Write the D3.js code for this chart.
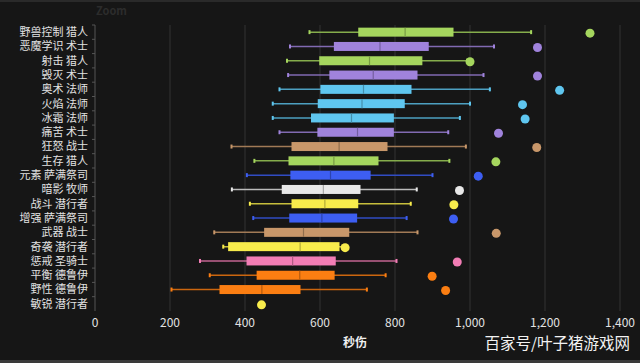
<!DOCTYPE html>
<html>
<head>
<meta charset="utf-8">
<script src="https://cdn.jsdelivr.net/npm/d3@7"></script>
<style>
  html, body { margin: 0; padding: 0; background: #161616; }
  svg { display: block; font-family: "Noto Sans CJK SC", "Noto Sans", sans-serif; }
</style>
</head>
<body>
<div id="chart"></div>
<script>
// spec names (top to bottom)
var specs = ["野兽控制 猎人", "恶魔学识 术士", "射击 猎人", "毁灭 术士", "奥术 法师", "火焰 法师",
  "冰霜 法师", "痛苦 术士", "狂怒 战士", "生存 猎人", "元素 萨满祭司", "暗影 牧师", "战斗 潜行者",
  "增强 萨满祭司", "武器 战士", "奇袭 潜行者", "惩戒 圣骑士", "平衡 德鲁伊", "野性 德鲁伊", "敏锐 潜行者"];

// box stats per spec (null = no box)
var lows    = [572, 520, 512, 515, 492, 474, 474, 492, 364, 425, 405, 365, 413, 422, 318, 342, 280, 306, 204, null];
var q1s     = [702, 637, 598, 625, 601, 594, 576, 593, 524, 516, 521, 498, 524, 518, 451, 355, 404, 431, 332, null];
var medians = [827, 760, 732, 742, 716, 712, 684, 700, 651, 637, 628, 609, 613, 605, 556, 547, 527, 546, 445, null];
var q3s     = [956, 890, 873, 860, 844, 826, 797, 797, 780, 756, 735, 708, 702, 699, 678, 652, 642, 639, 548, null];
var highs   = [1163, 1064, 992, 1036, 1053, 1000, 973, 942, 989, 945, 900, 858, 842, 831, 860, 660, 804, 775, 725, null];
var outliers = [1320, 1180, 1000, 1180, 1239, 1140, 1147, 1076, 1178, 1069, 1022, 972, 957, 956, 1070, 667, 966, 899, 935, 444];

var classColors = ["#a5d65e", "#a083dc", "#a5d65e", "#a083dc", "#5fc6ef", "#5fc6ef", "#5fc6ef", "#a083dc",
  "#c8976a", "#a5d65e", "#3d5ef2", "#e8e8e8", "#f8ec4c", "#3d5ef2", "#c8976a", "#f8ec4c", "#f27db5",
  "#fb7e12", "#fb7e12", "#f8ec4c"];

var xTicks = [0, 200, 400, 600, 800, 1000, 1200, 1400];

var width = 640, height = 363;
var margin = {top: 25, right: 20, bottom: 52, left: 95};

var svg = d3.select("#chart").append("svg")
    .attr("width", width)
    .attr("height", height);

svg.append("rect").attr("width", width).attr("height", height).attr("fill", "#161616");
svg.append("rect").attr("x", 0).attr("y", 0).attr("width", width).attr("height", 2).attr("fill", "#2a2a2a");
svg.append("rect").attr("x", 0).attr("y", height - 3).attr("width", width).attr("height", 3).attr("fill", "#3a3a3a");

var x = d3.scaleLinear().domain([0, 1400]).range([margin.left, 620]);
var y = d3.scaleBand().domain(specs).range([margin.top, height - margin.bottom]);

// faint "Zoom" label
svg.append("text")
    .attr("x", 96).attr("y", 15)
    .attr("fill", "#2c2c2c")
    .attr("font-size", 11)
    .attr("font-weight", "bold")
    .text("Zoom");

// gridlines
svg.append("g").selectAll("line")
    .data(xTicks.slice(1))
    .enter().append("line")
    .attr("x1", function(d) { return x(d); })
    .attr("x2", function(d) { return x(d); })
    .attr("y1", margin.top)
    .attr("y2", height - margin.bottom)
    .attr("stroke", "#333")
    .attr("stroke-width", 1);

// y axis line with ticks at band edges
var yAxis = svg.append("g");
yAxis.append("line")
    .attr("x1", x(0)).attr("x2", x(0))
    .attr("y1", margin.top).attr("y2", height - margin.bottom)
    .attr("stroke", "#555");
yAxis.selectAll(".tk")
    .data(specs)
    .enter().append("line")
    .attr("class", "tk")
    .attr("x1", x(0) - 3).attr("x2", x(0))
    .attr("y1", function(d) { return y(d); })
    .attr("y2", function(d) { return y(d); })
    .attr("stroke", "#555");

yAxis.selectAll("text")
    .data(specs)
    .enter().append("text")
    .attr("x", x(0) - 7)
    .attr("y", function(d) { return y(d) + y.bandwidth() / 2; })
    .attr("dy", "0.35em")
    .attr("text-anchor", "end")
    .attr("fill", "#e2e2e2")
    .attr("font-size", 11)
    .text(function(d) { return d; });

// x axis labels
var fmt = d3.format(",");
svg.append("g").selectAll("text")
    .data(xTicks)
    .enter().append("text")
    .attr("x", function(d) { return x(d); })
    .attr("y", 327)
    .attr("text-anchor", "middle")
    .attr("fill", "#e2e2e2")
    .attr("font-size", 12)
    .text(function(d) { return fmt(d); });

svg.append("text")
    .attr("x", 355).attr("y", 347)
    .attr("text-anchor", "middle")
    .attr("fill", "#f0f0f0")
    .attr("font-size", 12)
    .attr("font-weight", "bold")
    .text("秒伤");

svg.append("text")
    .attr("x", 630).attr("y", 349)
    .attr("text-anchor", "end")
    .attr("fill", "#f2f2f2")
    .attr("font-size", 15.5)
    .text("百家号/叶子猪游戏网");

// boxes
var rows = specs.map(function(s, i) {
    return {name: s, low: lows[i], q1: q1s[i], med: medians[i], q3: q3s[i], high: highs[i],
        out: outliers[i], color: classColors[i]};
});

var boxH = 9;
var row = svg.append("g").selectAll("g")
    .data(rows)
    .enter().append("g")
    .attr("transform", function(d) { return "translate(0," + (y(d.name) + y.bandwidth() / 2) + ")"; });

var boxed = row.filter(function(d) { return d.low != null; });

boxed.append("line")
    .attr("x1", function(d) { return x(d.low); })
    .attr("x2", function(d) { return x(d.high); })
    .attr("stroke", function(d) { return d3.color(d.color).darker(0.6); })
    .attr("stroke-width", 1.5);

boxed.selectAll(".cap")
    .data(function(d) { return [{v: d.low, c: d.color}, {v: d.high, c: d.color}]; })
    .enter().append("rect")
    .attr("class", "cap")
    .attr("x", function(d) { return x(d.v) - 1; })
    .attr("y", -2)
    .attr("width", 2)
    .attr("height", 4)
    .attr("fill", function(d) { return d.c; });

boxed.append("rect")
    .attr("x", function(d) { return x(d.q1); })
    .attr("y", -boxH / 2)
    .attr("width", function(d) { return x(d.q3) - x(d.q1); })
    .attr("height", boxH)
    .attr("fill", function(d) { return d.color; });

boxed.append("line")
    .attr("x1", function(d) { return x(d.med); })
    .attr("x2", function(d) { return x(d.med); })
    .attr("y1", -boxH / 2)
    .attr("y2", boxH / 2)
    .attr("stroke", function(d) { return d3.color(d.color).darker(0.9); })
    .attr("stroke-width", 1.2);

row.append("circle")
    .attr("cx", function(d) { return x(d.out); })
    .attr("cy", 1)
    .attr("r", 4.5)
    .attr("fill", function(d) { return d.color; });
</script>
</body>
</html>
